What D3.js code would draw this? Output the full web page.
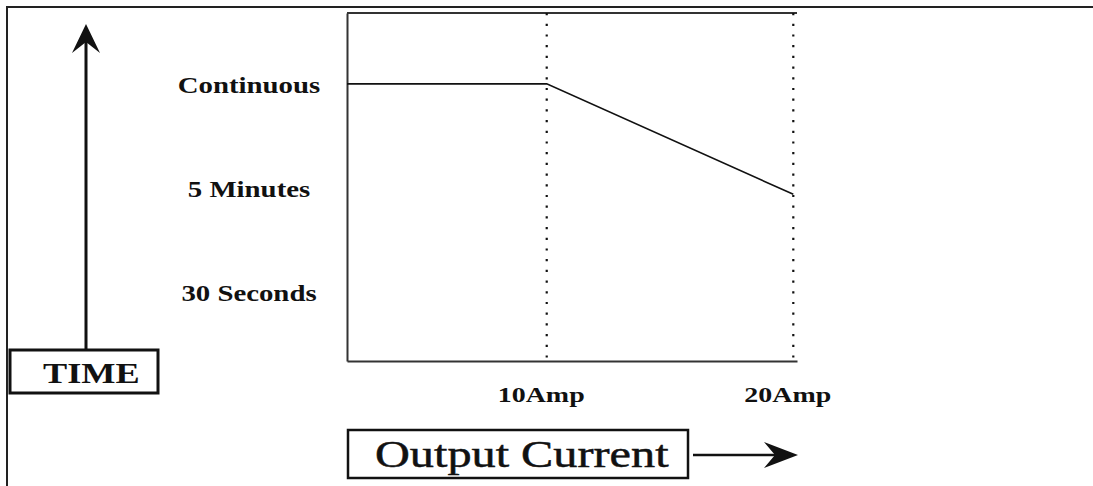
<!DOCTYPE html>
<html>
<head>
<meta charset="utf-8">
<script src="https://cdn.jsdelivr.net/npm/d3@7"></script>
<style>
  body { margin: 0; background: #fff; }
  text { font-family: "Liberation Serif", "Times New Roman", serif; fill: #111; }
</style>
</head>
<body>
<div id="main"></div>
<script>
// time levels on the vertical axis (0 = top)
const timeLabels = ["Continuous", "5 Minutes", "30 Seconds"];
const timeLevels = [0, 1, 2];
// current ticks (Amp)
const ampTicks = [10, 20];
// derating curve: [current, time level]
const ampValues = [1.9, 10, 20];
const levelValues = [0, 0, 1.06];

const W = 1093, H = 486,
      plotL = 347, plotR = 797, plotT = 13, plotB = 361,
      ink = '#111', boxInk = '#333';

const svg = d3.select('#main')
    .append('svg')
    .attr('width', W)
    .attr('height', H);

/* outer frame (left + top only) */
svg.append('path')
    .attr('d', `M7,${H} V7 H${W}`)
    .attr('fill', 'none')
    .attr('stroke', '#222')
    .attr('stroke-width', 2);

var x = d3.scaleLinear().domain([1.9, 20.15]).range([plotL, plotR]);
var y = d3.scaleLinear().domain([-0.68, 2.66]).range([plotT, plotB]);

// stretch text horizontally like the scanned original
function stretch(sel, k) {
    sel.each(function() {
        const w = this.getComputedTextLength();
        d3.select(this).attr('textLength', w * k).attr('lengthAdjust', 'spacingAndGlyphs');
    });
}

/* axes */
var yAxis = svg.append('g')
    .attr('transform', `translate(${plotL},0)`)
    .call(d3.axisLeft(y).tickValues(timeLevels).tickFormat(i => timeLabels[i]).tickSize(0).tickSizeOuter(0).tickPadding(98));
yAxis.select('.domain').attr('stroke', boxInk).attr('stroke-width', 2);
yAxis.selectAll('text')
    .attr('text-anchor', 'middle')
    .attr('dy', '0.36em')
    .attr('font-size', 24)
    .attr('font-weight', 'bold')
    .attr('font-family', '"Liberation Serif", serif')
    .attr('fill', ink)
    .call(stretch, 1.2);

var xAxis = svg.append('g')
    .attr('transform', `translate(0,${plotB})`)
    .call(d3.axisBottom(x).tickValues(ampTicks).tickFormat(d => d + 'Amp').tickSize(0).tickSizeOuter(0).tickPadding(26));
xAxis.select('.domain').attr('stroke', boxInk).attr('stroke-width', 2);
xAxis.selectAll('text')
    .attr('dx', -6)
    .attr('font-size', 21)
    .attr('font-weight', 'bold')
    .attr('font-family', '"Liberation Serif", serif')
    .attr('fill', ink)
    .call(stretch, 1.33);

/* top edge of plot box */
svg.append('line')
    .attr('x1', x.range()[0]).attr('x2', x.range()[1])
    .attr('y1', y.range()[0]).attr('y2', y.range()[0])
    .attr('stroke', boxInk).attr('stroke-width', 2);

/* dotted guides */
svg.selectAll('line.guide')
    .data(ampTicks)
    .enter()
    .append('line')
    .attr('class', 'guide')
    .attr('x1', d => x(d)).attr('x2', d => x(d))
    .attr('y1', y.range()[0]).attr('y2', y.range()[1])
    .attr('stroke', '#111')
    .attr('stroke-width', 2.2)
    .attr('stroke-dasharray', '2.2,8.5');

/* derating curve */
var line = d3.line()
    .x((d, i) => x(ampValues[i]))
    .y(d => y(d));
svg.append('path')
    .datum(levelValues)
    .attr('d', line)
    .attr('fill', 'none')
    .attr('stroke', ink)
    .attr('stroke-width', 1.6);

/* TIME label box + up arrow */
svg.append('line')
    .attr('x1', 86).attr('x2', 86).attr('y1', 350).attr('y2', 32)
    .attr('stroke', ink).attr('stroke-width', 3);
svg.append('path')
    .attr('d', 'M86,24 L100,53 L86,42 L72,53 Z')
    .attr('fill', ink);
svg.append('rect')
    .attr('x', 10).attr('y', 350).attr('width', 148).attr('height', 43)
    .attr('fill', '#fff').attr('stroke', ink).attr('stroke-width', 3);
svg.append('text')
    .text('TIME')
    .attr('x', 43).attr('y', 383)
    .attr('font-size', 29)
    .attr('font-weight', 'bold')
    .call(stretch, 1.25);

/* Output Current box + right arrow */
svg.append('rect')
    .attr('x', 348).attr('y', 430).attr('width', 340).attr('height', 48)
    .attr('fill', '#fff').attr('stroke', ink).attr('stroke-width', 2.5);
svg.append('text')
    .text('Output Current')
    .attr('x', 375).attr('y', 467)
    .attr('font-size', 38)
    .attr('stroke', ink)
    .attr('stroke-width', 0.5)
    .call(stretch, 1.27);
svg.append('line')
    .attr('x1', 693).attr('x2', 788).attr('y1', 455).attr('y2', 455)
    .attr('stroke', ink).attr('stroke-width', 2.5);
svg.append('path')
    .attr('d', 'M798,455 L764,442 L775,455 L764,468 Z')
    .attr('fill', ink);
</script>
</body>
</html>
